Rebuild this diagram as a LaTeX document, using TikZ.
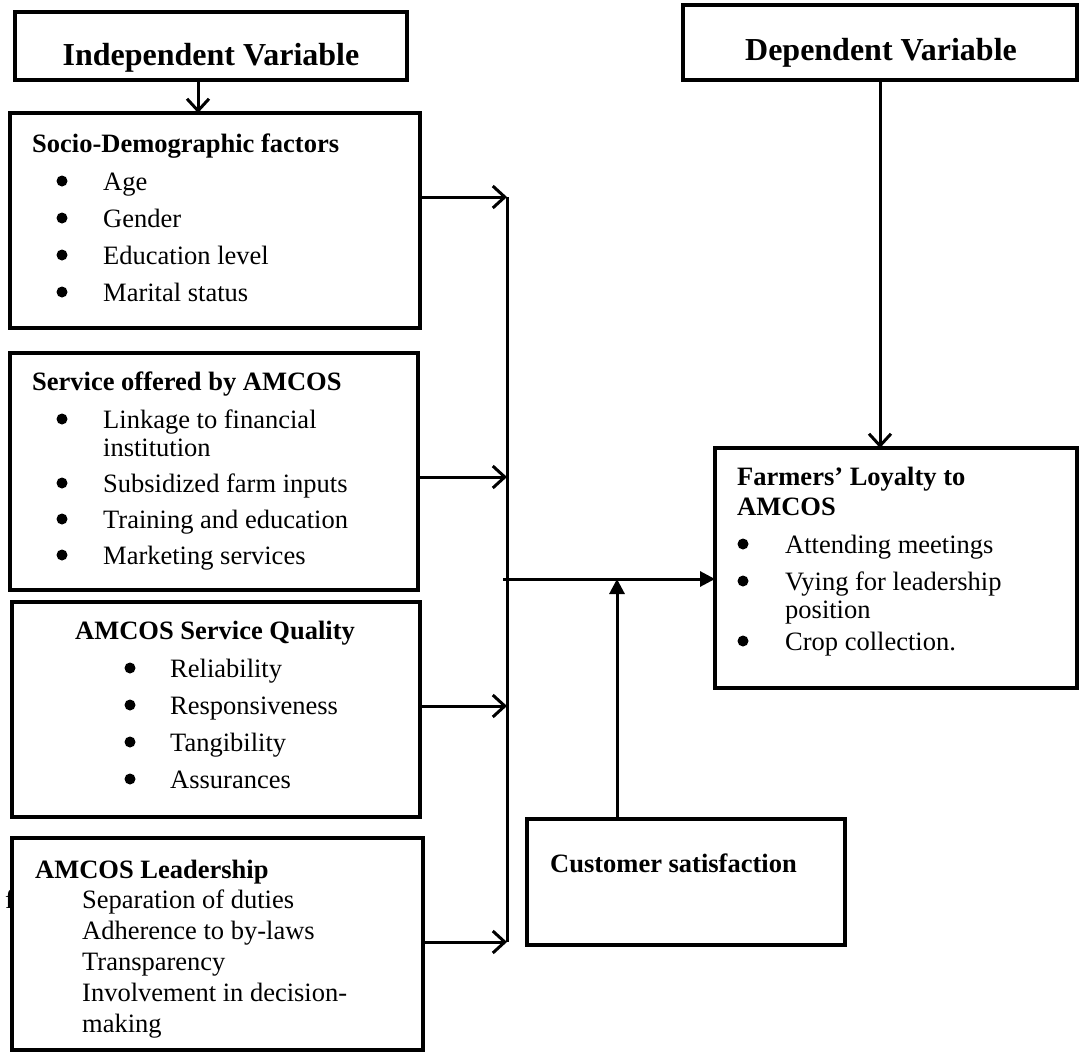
\documentclass[tikz,border=0pt]{standalone}
\usepackage{fontspec}
\setmainfont{Liberation Serif}
\usetikzlibrary{arrows.meta,positioning}
\newcommand{\bodyfont}{\fontsize{26.5pt}{30pt}\selectfont}
\newcommand{\hdrfont}{\fontsize{32pt}{36pt}\selectfont}
\tikzset{
  box/.style={draw, line width=4pt, fill=white, inner sep=0pt, outer sep=0pt, anchor=north west},
  hdr/.style={font=\hdrfont\bfseries, inner sep=0pt},
  ttl/.style={font=\bodyfont\bfseries, anchor=base west, inner sep=0pt},
  itm/.style={font=\bodyfont, anchor=base west, inner sep=0pt},
  bar/.style={line width=3pt},
  barb/.style={line width=3pt, -{Straight Barb[length=12pt,width=22pt]}},
  tri/.style={line width=3pt, -{Triangle[length=15pt,width=15pt]}}
}
\begin{document}
\begin{tikzpicture}[x=1pt,y=-1pt]
\useasboundingbox (0,0) rectangle (1080,1052);
% Header boxes
\node[box, minimum width=392pt, minimum height=68pt] (indep) at (15,12) {};
\node[hdr] (indeptxt) at (211,58) {Independent Variable};
\node[box, minimum width=394pt, minimum height=75pt] (dep) at (683,5) {};
\node[hdr] (deptxt) at (881,53) {Dependent Variable};
% Socio-demographic factors
\node[box, minimum width=410pt, minimum height=215pt] (socio) at (10,113) {};
\node[ttl] (sociottl) at (32,152) {Socio-Demographic factors};
\foreach \t [count=\i] in {Age,Gender,Education level,Marital status} {
  \fill (62,{190+37*(\i-1)-9}) circle (5.5pt);
  \node[itm] (socio\i) at (103,{190+37*(\i-1)}) {\t};
}
% Services
\node[box, minimum width=408pt, minimum height=237pt] (serv) at (10,353) {};
\node[ttl] (servttl) at (32,390) {Service offered by AMCOS};
\fill (62,419) circle (5.5pt);
\node[itm] (serv1) at (103,428) {Linkage to financial};
\node[itm] (serv1b) at (103,456) {institution};
\foreach \t [count=\i] in {Subsidized farm inputs,Training and education,Marketing services} {
  \fill (62,{492+36*(\i-1)-9}) circle (5.5pt);
  \node[itm] (serv\i x) at (103,{492+36*(\i-1)}) {\t};
}
% Service quality
\node[box, minimum width=408pt, minimum height=215pt] (qual) at (12,602) {};
\node[ttl] (qualttl) at (75,639) {AMCOS Service Quality};
\foreach \t [count=\i] in {Reliability,Responsiveness,Tangibility,Assurances} {
  \fill (130,{677+37*(\i-1)-9}) circle (5.5pt);
  \node[itm] (qual\i) at (170,{677+37*(\i-1)}) {\t};
}
% Leadership
\node[itm] (stray) at (5,908) {f};
\node[box, minimum width=411pt, minimum height=212pt] (lead) at (12,838) {};
\node[ttl] (leadttl) at (35,878) {AMCOS Leadership};
\foreach \t [count=\i] in {Separation of duties,Adherence to by-laws,Transparency,Involvement in decision-,making} {
  \node[itm] (lead\i) at (82,{878+30.8*\i}) {\t};
}
% Farmers' loyalty
\node[box, minimum width=362pt, minimum height=240pt] (loyal) at (715,448) {};
\node[ttl] (loyalttl) at (737,485) {Farmers’ Loyalty to};
\node[ttl] (loyalttlb) at (737,515) {AMCOS};
\fill (743,544) circle (5.5pt);
\node[itm] (loyal1) at (785,553) {Attending meetings};
\fill (743,581) circle (5.5pt);
\node[itm] (loyal2) at (785,590) {Vying for leadership};
\node[itm] (loyal2b) at (785,618) {position};
\fill (743,641) circle (5.5pt);
\node[itm] (loyal3) at (785,650) {Crop collection.};
% Customer satisfaction
\node[box, minimum width=318pt, minimum height=126pt] (csat) at (527,819) {};
\node[ttl] (csatttl) at (550,872) {Customer satisfaction};
% Connectors
\coordinate (a0) at (198,80);
\draw[barb] (a0) -- (a0 |- socio.north);
\draw[barb] (dep.south) -- (dep.south |- loyal.north);
\coordinate (j1) at (507,197);
\coordinate (j2) at (507,477);
\coordinate (j3) at (507,706);
\coordinate (j4) at (507,942);
\draw[bar] (j1) -- (j4);
\draw[barb] (socio.east |- j1) -- (j1);
\draw[barb] (serv.east |- j2) -- (j2);
\draw[barb] (qual.east |- j3) -- (j3);
\draw[barb] (lead.east |- j4) -- (j4);
\coordinate (h0) at (503,579);
\draw[tri] (h0) -- (h0 -| loyal.west);
\coordinate (v0) at (617,819);
\draw[tri] (v0) -- (v0 |- h0);
\end{tikzpicture}
\end{document}
